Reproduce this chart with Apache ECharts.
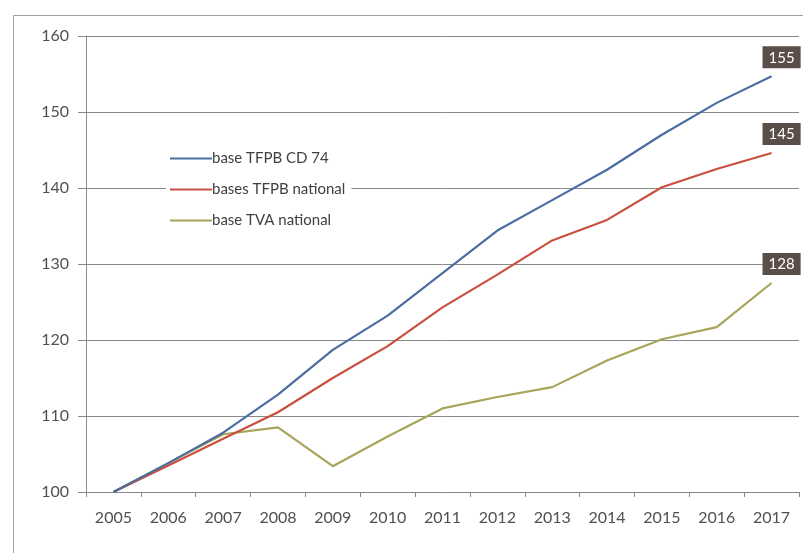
<!DOCTYPE html>
<html><head><meta charset="utf-8">
<script src="https://cdn.jsdelivr.net/npm/echarts@6/dist/echarts.min.js"></script>
<style>html,body{margin:0;padding:0;background:#fff}#c{width:803px;height:553px}</style>
</head><body><div id="c"></div>
<script>
const years = ['2005','2006','2007','2008','2009','2010','2011','2012','2013','2014','2015','2016','2017'];
const seriesNames = ['base TFPB CD 74','bases TFPB national','base TVA national'];
const cd74 = [100,103.8,107.8,112.8,118.7,123.2,128.8,134.4,138.4,142.4,147.0,151.2,154.7];
const tfpbNat = [100,103.5,107.0,110.5,115.0,119.2,124.3,128.6,133.1,135.8,140.1,142.5,144.6];
const tvaNat = [100,103.8,107.6,108.5,103.4,107.3,111.0,112.5,113.8,117.3,120.1,121.7,127.5];
const endLabels = ['155','145','128'];
const colors = ['#4a6da2','#c9503e','#a8a45a'];
const allData = [cd74, tfpbNat, tvaNat];

const chart = echarts.init(document.getElementById('c'), null, {renderer:'canvas'});
const font = 'Lato, "Open Sans", sans-serif';
chart.setOption({
  animation:false,
  backgroundColor:'#fff',
  textStyle:{fontFamily:font},
  graphic:[{type:'rect', shape:{x:13.5,y:15.5,width:800,height:560}, style:{fill:'none', stroke:'#a0a0a0', lineWidth:1}, z:-1}],
  grid:{left:86, right:4, top:36, bottom:61, containLabel:false},
  legend:{
    orient:'vertical', left:166, top:147, itemGap:16, itemWidth:42, itemHeight:14,
    backgroundColor:'#fff', padding:[4,6,4,4],
    icon:'path://M0,6H42V8H0Z',
    textStyle:{color:'#404040', fontSize:15, fontFamily:font, padding:[0,0,0,-5]},
    data:seriesNames
  },
  xAxis:{
    type:'category', data:years, boundaryGap:true,
    axisLine:{lineStyle:{color:'#8a8a8a'}},
    axisTick:{show:true, length:5, lineStyle:{color:'#8a8a8a'}},
    axisLabel:{color:'#505050', fontSize:16, margin:18, fontFamily:font}
  },
  yAxis:{
    type:'value', min:100, max:160, interval:10,
    axisLine:{show:true, lineStyle:{color:'#8a8a8a'}},
    axisTick:{show:true, length:8, lineStyle:{color:'#8a8a8a'}},
    axisLabel:{color:'#505050', fontSize:16, margin:17, fontFamily:font},
    splitLine:{lineStyle:{color:'#8a8a8a', width:1}}
  },
  series: allData.map((d,i)=>({
    name:seriesNames[i], type:'line', data:d.map((v,j)=> j===d.length-1 ? {
      value:v,
      label:{show:true, position:'top', distance:6, offset:[10,-2], formatter:endLabels[i],
        color:'#fff', backgroundColor:'#5b4e48', fontSize:15, padding:[4,6,3,6], fontFamily:font}
    } : v),
    symbol:'circle', symbolSize:0, showSymbol:true,
    lineStyle:{color:colors[i], width:2.2}, itemStyle:{color:colors[i]},
    z: 3-i
  }))
});
</script></body></html>
